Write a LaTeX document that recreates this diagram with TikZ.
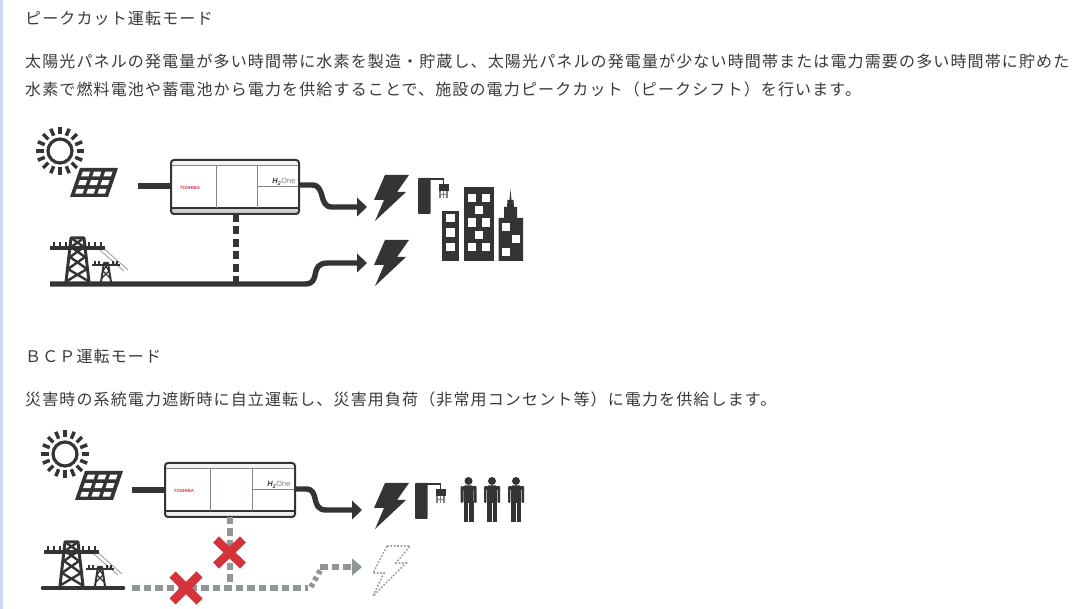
\documentclass[tikz,border=0pt]{standalone}
\usepackage{fontspec}
\usetikzlibrary{arrows.meta}
\setmainfont[LetterSpace=7.1]{Noto Sans CJK JP}
\newfontfamily\lsans{Liberation Sans}
\definecolor{ink}{HTML}{333535}
\definecolor{txt}{HTML}{3A3A3A}
\definecolor{off}{HTML}{8E9696}
\definecolor{xred}{HTML}{D5333C}
\definecolor{barblue}{HTML}{CBD9EE}
\tikzset{
  para/.style={anchor=base west,inner sep=0pt,text=txt,font=\fontsize{16}{16}\selectfont},
  power/.style={draw=ink,line width=5.4pt,line join=round},
  arrowed/.style={power,-{Triangle[length=10pt,width=18.5pt]}},
  dashv/.style={draw=ink,line width=6pt,dash pattern=on 8pt off 4.5pt},
  dashoff/.style={draw=off,line width=5.5pt,dash pattern=on 7.5pt off 4pt},
  bolt/.style={fill=ink},
  xmark/.style={draw=xred,line width=8.5pt},
  boxline/.style={draw=off!90!black,line width=1pt},
}
% sun + solar panel: sun centre at origin of scope
\newcommand{\sunpanel}[2]{%
 \begin{scope}[shift={(#1,#2)}]
  \draw[ink,line width=3.2pt] (0,0) circle (12);
  \foreach \a in {0,22.5,...,337.5}
    \draw[ink,line width=3.5pt] (\a:16.5) -- (\a:24);
  \begin{scope}[shift={(20,17)},xslant=0.345]
    \fill[ink] (0,0) rectangle (38,29);
    \foreach \i in {0,1,2}\foreach \j in {0,1,2}
      \fill[white] (4+\i*11.2,3.6+\j*8.6) rectangle ++(7.4,4.9);
  \end{scope}
 \end{scope}}
% H2One box; #1,#2 top left, #3 width, #4 height, #5 fill of bottom band
\newcommand{\hybox}[6]{%
 \begin{scope}[shift={(#1,#2)}]
  \fill[white] (0,0) rectangle (#3,#4);
  \fill[#5] (0,#4-6) rectangle (#3,#4);
  \fill[black!5] (0,0) rectangle (#3,6);
  \draw[boxline] (0,6) -- (#3,6);
  \draw[ink,line width=1.2pt] (0,#4-6) -- (#3,#4-6);
  \draw[boxline] (45,6) -- (45,#4-6);
  \draw[boxline] (#6,6) -- (#6,#4-6);
  \draw[boxline] (#6,#4*0.5) -- (#3,#4*0.5);
  \draw[ink,line width=2pt,rounded corners=3pt] (0,0) rectangle (#3,#4);
  \node[inner sep=0pt,text=xred,font=\lsans\bfseries\fontsize{4.5}{5}\selectfont] (lg#1) at (19,#4*0.5+1) {TOSHIBA};
  \node[inner sep=0pt,text=gray,font=\lsans\fontsize{7.5}{8}\selectfont] (lh#1) at (#6+27,#4*0.5-5) {\textcolor{ink}{\textbf{\textit{H\textsubscript{2}}}}One};
 \end{scope}}
% pylons; origin at left end of ground line height
\newcommand{\pylons}[2]{%
 \begin{scope}[shift={(#1,#2)}]
  \draw[gray!80,line width=.8pt] (94,-38) -- (124,-12) (100,-38) -- (128,-13);
  % big tower
  \draw[ink,line width=3pt,line join=round] (66,-1) -- (71,-45) -- (84,-45) -- (89,-1);
  \draw[ink,line width=2.4pt] (71,-45) -- (84,-36) -- (70,-26) -- (87,-14) -- (67,-2)
        (84,-45) -- (71,-36) -- (85,-26) -- (68,-14) -- (88,-2);
  \draw[ink,line width=3.4pt] (50,-35) -- (105,-35);
  \foreach \x in {54,60,66,89,95,101} \draw[ink,line width=2.2pt] (\x,-35) -- (\x,-41);
  % small tower
  \draw[ink,line width=2pt,line join=round] (101,-1) -- (104,-20) -- (108,-20) -- (111,-1);
  \draw[ink,line width=1.3pt] (104,-20) -- (109,-12) -- (102,-5) (108,-20) -- (103,-12) -- (110,-5);
  \draw[ink,line width=2.2pt] (92,-18) -- (120,-18);
  \foreach \x in {95,99,113,117} \draw[ink,line width=1.5pt] (\x,-18) -- (\x,-22);
 \end{scope}}
% lightning polygon
\newcommand{\boltpath}[2]{(#1+11,#2) -- (#1+35,#2) -- (#1+23,#2+17) -- (#1+32,#2+17) -- (#1+1,#2+46) -- (#1+10,#2+25) -- (#1,#2+25) -- cycle}
% plug unit
\newcommand{\plugunit}[2]{%
 \begin{scope}[shift={(#1,#2)}]
  \fill[ink,rounded corners=.8pt] (0,0) rectangle (12.5,36);
  \draw[ink,line width=1.3pt] (12,1) -- (25.5,1) -- (25.5,7);
  \fill[ink] (20.5,6) rectangle (30.5,13);
  \foreach \x in {22,25.5,29} \draw[gray,line width=1.1pt] (\x,13.5) -- (\x,20);
  \draw[gray,line width=.8pt] (21,16) -- (30,16);
 \end{scope}}
% person; #1 = centre x, #2 = top y
\newcommand{\person}[2]{%
 \begin{scope}[shift={(#1,#2)}]
  \fill[ink] (0,4) circle (4);
  \fill[ink,rounded corners=1.5pt] (-5.2,8.5) rectangle (5.2,26);
  \fill[ink] (-5,24) rectangle (-.5,45);
  \fill[ink] (.5,24) rectangle (5,45);
  \fill[ink,rounded corners=1pt] (-8,9) rectangle (-5.6,26);
  \fill[ink,rounded corners=1pt] (5.6,9) rectangle (8,26);
  \fill[ink] (-6,9) rectangle (6,13);
 \end{scope}}
\begin{document}
\begin{tikzpicture}[x=1pt,y=-1pt]
\useasboundingbox (0,0) rectangle (1080,609);
\fill[white] (0,0) rectangle (1080,609);
\fill[barblue] (0,0) rectangle (2.6,609);
% ---- texts
\node[para] (t1) at (25,24.5) {ピークカット運転モード};
\node[para] (t2) at (25,67.5) {太陽光パネルの発電量が多い時間帯に水素を製造・貯蔵し、太陽光パネルの発電量が少ない時間帯または電力需要の多い時間帯に貯めた};
\node[para] (t3) at (25,95.5) {水素で燃料電池や蓄電池から電力を供給することで、施設の電力ピークカット（ピークシフト）を行います。};
\node[para] (t4) at (25,362.5) {ＢＣＰ運転モード};
\node[para] (t5) at (25,405.5) {災害時の系統電力遮断時に自立運転し、災害用負荷（非常用コンセント等）に電力を供給します。};

% ---- diagram 1
\sunpanel{60}{151}
\hybox{171}{160}{128}{54}{black!18}{86}
\coordinate (pv1) at (138,186);
\coordinate (boxL1) at (171,186);
\coordinate (boxR1) at (299,185);
\coordinate (boxB1) at (236,214);
\coordinate (gnd1a) at (50,284);
\coordinate (gnd1j) at (236,284);
\coordinate (tip1a) at (367,207);
\coordinate (tip1b) at (367,263);
\draw[power] (pv1) -- (boxL1);
\draw[arrowed] (boxR1) -- (312,185) .. controls (326,185) and (318,207) .. (332,207) -- (tip1a);
\draw[dashv] (boxB1) -- (gnd1j);
\draw[arrowed] (gnd1a) -- (305,284) .. controls (322,284) and (308,263) .. (328,263) -- (tip1b);
\pylons{0}{283}
\fill[bolt] \boltpath{374}{175};
\fill[bolt] \boltpath{374}{240};
\plugunit{418}{178}
% buildings
\fill[ink] (442,211) rectangle (459,261);
\foreach \y in {218,232.5,247} \fill[white] (446.3,\y-4) rectangle ++(8.4,8.4);
\fill[ink] (464,187) rectangle (494,261);
\foreach \x/\y in {471.7/198,485.7/198,478.7/210,471.7/222.5,485.7/222.5,478.7/235,471.7/247,485.7/247}
  \fill[white] (\x-4.2,\y-4.2) rectangle ++(8.4,8.4);
\fill[ink] (498.5,261) -- (498.5,218) -- (504,218) -- (504,207) -- (507,207) -- (507.5,200) -- (509.5,200) -- (510.5,189) -- (511.5,200) -- (513.5,200) -- (514,207) -- (517,207) -- (517,218) -- (523,218) -- (523,261) -- cycle;
\foreach \x/\y in {506.3/227,516/239.5,506.3/252}
  \fill[white] (\x-4,\y-4) rectangle ++(8,8);

% ---- diagram 2
\sunpanel{65}{454}
\hybox{165}{463}{130}{54}{black!6}{87}
\coordinate (pv2) at (132,490);
\coordinate (boxL2) at (165,490);
\coordinate (boxR2) at (295,489);
\coordinate (boxB2) at (230,517);
\coordinate (gnd2a) at (43,588);
\coordinate (gnd2b) at (123,588);
\coordinate (gnd2c) at (132,588);
\coordinate (gnd2j) at (230,582);
\coordinate (tip2a) at (362,510);
\coordinate (tip2b) at (362,567);
\draw[power] (pv2) -- (boxL2);
\draw[arrowed] (boxR2) -- (306,489) .. controls (320,489) and (310,510) .. (326,510) -- (tip2a);
\draw[dashoff] (boxB2) -- (gnd2j);
\draw[ink,line width=4.6pt,line cap=round] (gnd2a) -- (gnd2b);
\pylons{-6}{587}
\draw[dashoff] (gnd2c) -- (308,588);
\draw[dashoff,dash pattern=on 4pt off 3.5pt] (311,587) -- (321,569);
\draw[draw=off,line width=5.5pt,dash pattern=on 7.5pt off 4pt,-{Triangle[length=10pt,width=17pt,fill=off]}] (320,567) -- (tip2b);
\draw[xmark] (216,539.5) -- (243,565.5) (243,539.5) -- (216,565.5);
\draw[xmark] (172.5,574.5) -- (199.5,601.5) (199.5,574.5) -- (172.5,601.5);
\fill[bolt] \boltpath{374}{483};
\plugunit{415}{483}
\person{468.5}{477}
\person{492}{477}
\person{516}{477}
\draw[gray!75,line width=1.6pt,dash pattern=on 1.7pt off 1.7pt] (387,546) -- (410,546) -- (396,563) -- (406,563) -- (373,596) -- (384,573) -- (373,573) -- cycle;
\end{tikzpicture}
\end{document}
